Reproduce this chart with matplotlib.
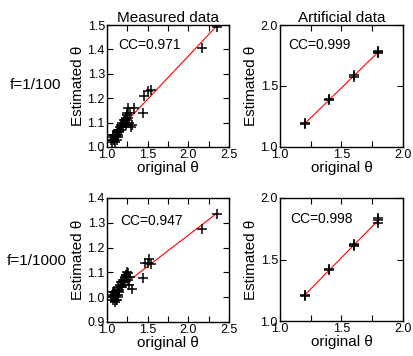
import numpy as np
import matplotlib
matplotlib.use("Agg")
import matplotlib.pyplot as plt
from matplotlib.ticker import MultipleLocator, FormatStrFormatter

plt.rcParams['font.family'] = ['Liberation Sans', 'DejaVu Sans']

# Measured data, f=1/100
meas100_x = [2.35, 2.165, 1.54, 1.51, 1.46, 1.44, 1.33, 1.26, 1.28, 1.31, 1.25,
             1.05, 1.06, 1.07, 1.08, 1.09, 1.10, 1.11, 1.12, 1.13, 1.14, 1.15,
             1.16, 1.17, 1.18, 1.19, 1.20, 1.21, 1.22, 1.23, 1.24, 1.25, 1.26,
             1.07, 1.09, 1.11, 1.13, 1.15, 1.17, 1.19, 1.21, 1.23, 1.27, 1.29, 1.12]
meas100_y = [1.49, 1.404, 1.233, 1.23, 1.207, 1.14, 1.16, 1.16, 1.14, 1.092, 1.11,
             1.03, 1.02, 1.04, 1.03, 1.05, 1.02, 1.04, 1.06, 1.05, 1.07, 1.06,
             1.08, 1.07, 1.09, 1.10, 1.08, 1.10, 1.11, 1.12, 1.13, 1.14, 1.12,
             1.05, 1.03, 1.05, 1.04, 1.07, 1.09, 1.08, 1.11, 1.09, 1.10, 1.08, 1.03]
fit100_x = [1.03, 2.36]
fit100_y = [1.03, 1.50]
cc_meas100 = "CC=0.971"

# Measured data, f=1/1000
meas1000_x = [2.35, 2.165, 1.50, 1.52, 1.545, 1.47, 1.44, 1.31, 1.26, 1.285,
              1.05, 1.06, 1.07, 1.08, 1.09, 1.10, 1.11, 1.12, 1.13, 1.14, 1.15,
              1.16, 1.17, 1.18, 1.19, 1.20, 1.21, 1.22, 1.23, 1.24, 1.25, 1.26,
              1.07, 1.09, 1.11, 1.13, 1.15, 1.17, 1.19, 1.21, 1.23, 1.27, 1.10, 1.12]
meas1000_y = [1.334, 1.274, 1.139, 1.154, 1.133, 1.137, 1.076, 1.033, 1.096, 1.083,
              1.00, 1.01, 0.99, 1.00, 1.02, 0.98, 1.01, 1.03, 1.00, 1.04, 1.02,
              1.05, 1.04, 1.06, 1.05, 1.07, 1.06, 1.08, 1.09, 1.10, 1.08, 1.07,
              1.02, 1.00, 0.99, 1.01, 1.03, 1.06, 1.04, 1.07, 1.09, 1.05, 1.02, 0.99]
fit1000_x = [1.04, 2.35]
fit1000_y = [1.009, 1.338]
cc_meas1000 = "CC=0.947"

# Artificial data
art100_x = [1.2, 1.2, 1.4, 1.4, 1.6, 1.6, 1.8, 1.8, 1.8]
art100_y = [1.19, 1.20, 1.385, 1.39, 1.575, 1.59, 1.77, 1.79, 1.78]
artfit100_x = [1.2, 1.8]
artfit100_y = [1.19, 1.78]
cc_art100 = "CC=0.999"

art1000_x = [1.2, 1.2, 1.4, 1.4, 1.6, 1.6, 1.6, 1.8, 1.8, 1.8]
art1000_y = [1.20, 1.21, 1.415, 1.42, 1.61, 1.63, 1.62, 1.80, 1.84, 1.82]
artfit1000_x = [1.2, 1.8]
artfit1000_y = [1.21, 1.82]
cc_art1000 = "CC=0.998"

row_labels = ["f=1/100", "f=1/1000"]
col_titles = ["Measured data", "Artificial data"]

W, H = 414, 356
fig = plt.figure(figsize=(W / 100, H / 100), dpi=100)

def rect(l, r, t, b):
    return [l / W, (H - b) / H, (r - l) / W, (b - t) / H]

ax_tl = fig.add_axes(rect(107, 229, 25, 147))
ax_tr = fig.add_axes(rect(280, 403, 25, 147))
ax_bl = fig.add_axes(rect(107, 229, 198, 322))
ax_br = fig.add_axes(rect(280, 403, 198, 321))

def style(ax, xlim, ylim, xmaj, xmin, ymaj, ymin):
    ax.set_xlim(*xlim)
    ax.set_ylim(*ylim)
    ax.xaxis.set_major_locator(MultipleLocator(xmaj))
    ax.xaxis.set_minor_locator(MultipleLocator(xmin))
    ax.yaxis.set_major_locator(MultipleLocator(ymaj))
    ax.yaxis.set_minor_locator(MultipleLocator(ymin))
    ax.tick_params(which='both', direction='in', top=True, right=True,
                   labelsize=9, pad=1.5, width=0.8, length=4)
    ax.xaxis.set_major_formatter(FormatStrFormatter('%.1f'))
    ax.yaxis.set_major_formatter(FormatStrFormatter('%.1f'))
    for s in ax.spines.values():
        s.set_linewidth(1.0)
    ax.set_xlabel('original θ', fontsize=11, labelpad=0)
    ax.set_ylabel('Estimated θ', fontsize=11, labelpad=2)

def draw(ax, x, y, fx, fy, cc, tx, ty):
    ax.plot(fx, fy, color='red', lw=0.8, zorder=2)
    ax.plot(x, y, linestyle='none', marker='+', color='black', ms=6.5, mew=1.1, zorder=3)
    ax.text(tx, ty, cc, transform=ax.transAxes, fontsize=10, va='center', ha='left')

style(ax_tl, (1.0, 2.5), (1.0, 1.5), 0.5, 0.25, 0.1, 0.1)
style(ax_bl, (1.0, 2.5), (0.9, 1.4), 0.5, 0.25, 0.1, 0.1)
style(ax_tr, (1.0, 2.0), (1.0, 2.0), 0.5, 0.25, 0.5, 0.5)
style(ax_br, (1.0, 2.0), (1.0, 2.0), 0.5, 0.25, 0.5, 0.5)

draw(ax_tl, meas100_x, meas100_y, fit100_x, fit100_y, cc_meas100, 0.09, 0.836)
draw(ax_bl, meas1000_x, meas1000_y, fit1000_x, fit1000_y, cc_meas1000, 0.107, 0.815)
draw(ax_tr, art100_x, art100_y, artfit100_x, artfit100_y, cc_art100, 0.065, 0.836)
draw(ax_br, art1000_x, art1000_y, artfit1000_x, artfit1000_y, cc_art1000, 0.08, 0.83)

ax_tl.set_title(col_titles[0], fontsize=11, pad=2)
ax_tr.set_title(col_titles[1], fontsize=11, pad=2)

fig.text(10 / W, 1 - 85 / H, row_labels[0], fontsize=11, va='center', ha='left')
fig.text(7 / W, 1 - 261 / H, row_labels[1], fontsize=11, va='center', ha='left')

fig.savefig('out.png', dpi=100)
